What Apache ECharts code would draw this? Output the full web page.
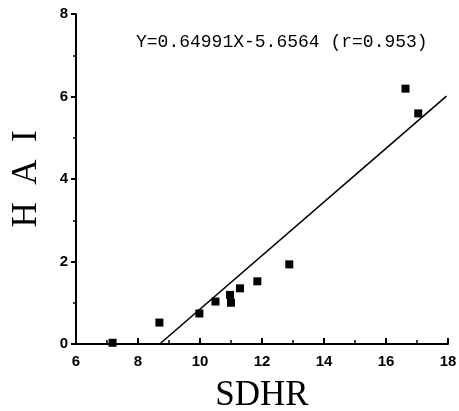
<!DOCTYPE html>
<html>
<head>
<meta charset="utf-8">
<script src="https://cdn.jsdelivr.net/npm/echarts@6/dist/echarts.min.js"></script>
<style>
  html, body { margin: 0; padding: 0; background: #fff; }
  #chart { width: 459px; height: 411px; }
</style>
</head>
<body>
<div id="chart"></div>
<script>
// measured points (SDHR, HAI)
const sdhr = [7.18, 8.69, 9.98, 10.5, 10.97, 11.0, 11.29, 11.85, 12.88, 16.63, 17.04];
const hai = [0.03, 0.52, 0.74, 1.03, 1.19, 1.0, 1.35, 1.52, 1.93, 6.19, 5.59];

// regression line end points
const fitX = [8.7, 17.95];
const fitY = [0.0, 6.01];

const xTicks = [6, 8, 10, 12, 14, 16, 18];
const yTicks = [0, 2, 4, 6, 8];
const equation = "Y=0.64991X-5.6564 (r=0.953)";

const chart = echarts.init(document.getElementById("chart"));

const option = {
  animation: false,
  title: {
    text: equation,
    left: 131,
    top: 28,
    textStyle: {
      fontFamily: "Liberation Mono",
      fontSize: 18,
      fontWeight: "normal",
      color: "#000",
    },
  },
  grid: { left: 76, right: 11, top: 14, bottom: 67, outerBoundsMode: "none" },
  xAxis: {
    type: "value",
    min: xTicks[0],
    max: xTicks[xTicks.length - 1],
    interval: 2,
    name: "SDHR",
    nameLocation: "middle",
    nameGap: 34,
    nameTextStyle: { fontFamily: "Liberation Serif", fontSize: 35, color: "#000" },
    axisLine: { lineStyle: { color: "#000", width: 2 } },
    axisTick: { inside: true, length: 6, lineStyle: { color: "#000", width: 2 } },
    minorTick: { show: true, splitNumber: 2, length: 4, lineStyle: { color: "#000", width: 1.5 } },
    axisLabel: {
      margin: 10,
      fontFamily: "Liberation Sans",
      fontWeight: "bold",
      fontSize: 15,
      color: "#000",
    },
    splitLine: { show: false },
  },
  yAxis: {
    type: "value",
    min: yTicks[0],
    max: yTicks[yTicks.length - 1],
    interval: 2,
    name: "H  A  I",
    nameLocation: "middle",
    nameGap: 32,
    nameTextStyle: { fontFamily: "Liberation Serif", fontSize: 35, color: "#000" },
    axisLine: { lineStyle: { color: "#000", width: 2 } },
    axisTick: { length: 5, lineStyle: { color: "#000", width: 2 } },
    minorTick: { show: true, splitNumber: 2, length: 3, lineStyle: { color: "#000", width: 1.5 } },
    axisLabel: {
      margin: 8,
      fontFamily: "Liberation Sans",
      fontWeight: "bold",
      fontSize: 15,
      color: "#000",
    },
    splitLine: { show: false },
  },
  series: [
    {
      type: "line",
      data: fitX.map((x, i) => [x, fitY[i]]),
      showSymbol: false,
      lineStyle: { color: "#000", width: 1.6 },
      z: 2,
    },
    {
      type: "scatter",
      data: sdhr.map((x, i) => [x, hai[i]]),
      symbol: "rect",
      symbolSize: 8,
      itemStyle: { color: "#000", opacity: 1 },
      z: 3,
    },
  ],
};

chart.setOption(option);
</script>
</body>
</html>
